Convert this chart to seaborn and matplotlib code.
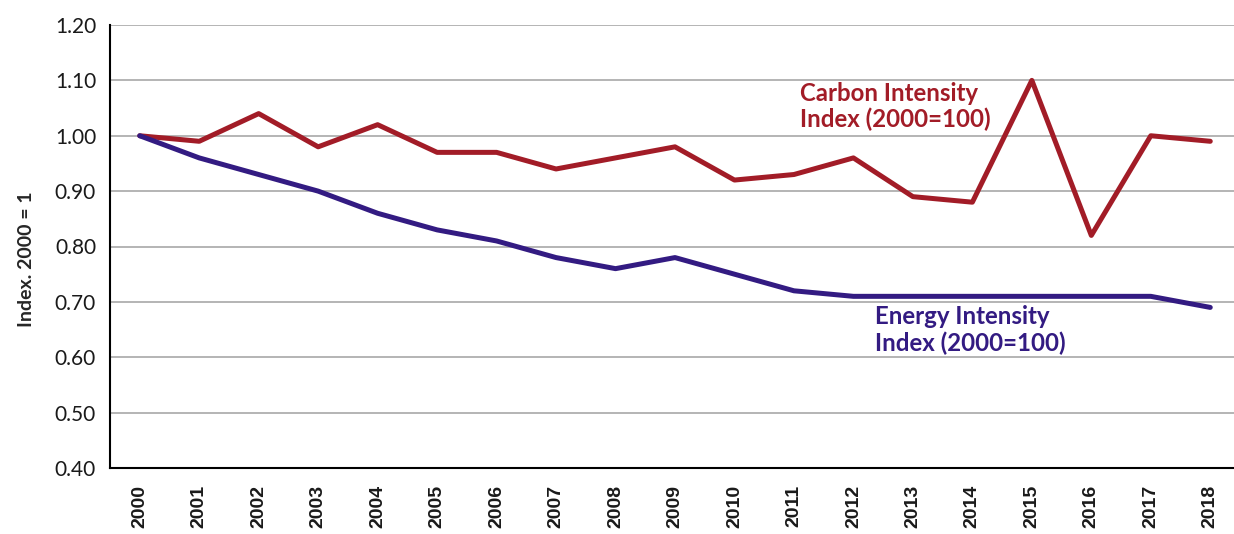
import pandas as pd
import matplotlib
matplotlib.use('Agg')
import matplotlib.pyplot as plt
import seaborn as sns
from matplotlib.ticker import FixedLocator

# Index values, 2000 = 1
years = [str(y) for y in range(2000, 2019)]
carbon = [1.00, 0.99, 1.04, 0.98, 1.02, 0.97, 0.97, 0.94, 0.96, 0.98,
          0.92, 0.93, 0.96, 0.89, 0.88, 1.10, 0.82, 1.00, 0.99]
energy = [1.00, 0.96, 0.93, 0.90, 0.86, 0.83, 0.81, 0.78, 0.76, 0.78,
          0.75, 0.72, 0.71, 0.71, 0.71, 0.71, 0.71, 0.71, 0.69]
y_ticks = [0.40, 0.50, 0.60, 0.70, 0.80, 0.90, 1.00, 1.10, 1.20]

red = '#A21C27'
purple = '#331B82'

data = pd.DataFrame({'Year': years, 'Carbon': carbon, 'Energy': energy})

sns.set_style('white')
plt.rcParams['font.family'] = ['Lato', 'DejaVu Sans']

fig = plt.figure(figsize=(12.34, 5.34), dpi=100)
ax = fig.add_axes([110 / 1234, 1 - 468 / 534, 1130 / 1234, (468 - 25) / 534])

sns.lineplot(x='Year', y='Carbon', data=data, color=red, linewidth=3.6, ax=ax, sort=False)
sns.lineplot(x='Year', y='Energy', data=data, color=purple, linewidth=3.6, ax=ax, sort=False)

ax.set_xlim(-0.5, len(years) - 0.5)
ax.set_ylim(0.40, 1.20)
ax.set_yticks(y_ticks)
ax.set_yticklabels([f'{v:.2f}' for v in y_ticks], fontsize=15, color='#1a1a1a')
ax.yaxis.grid(True, color='#A8A8A8', linewidth=1.2)
ax.set_axisbelow(True)

ax.set_xticks(range(len(years)))
ax.set_xticklabels(years, rotation=90, fontsize=14, fontweight='bold',
                   family='Liberation Sans', color='#1a1a1a')
ax.xaxis.set_minor_locator(FixedLocator([i + 0.5 for i in range(len(years) - 1)]))
ax.tick_params(axis='x', which='major', length=0, pad=12)
ax.tick_params(axis='x', which='minor', length=10, width=1.2, direction='in', color='#333333')
ax.tick_params(axis='y', length=0, pad=10)

for s in ['top', 'right']:
    ax.spines[s].set_visible(False)
for s in ['left', 'bottom']:
    ax.spines[s].set_color('black')
    ax.spines[s].set_linewidth(1.5)

# y label sits left of the tick labels, a little below the middle
ax.set_xlabel('')
ax.set_ylabel('Index. 2000 = 1', fontsize=14, fontweight='bold')
ax.yaxis.set_label_coords(-0.066, 0.472)

ax.text(11.1, 1.097, 'Carbon Intensity\nIndex (2000=100)', color=red, fontsize=17.3,
        fontweight='bold', ha='left', va='top', linespacing=1.15)
ax.text(12.36, 0.694, 'Energy Intensity\nIndex (2000=100)', color=purple, fontsize=17.3,
        fontweight='bold', ha='left', va='top', linespacing=1.15)

fig.savefig('out.png', dpi=100)
